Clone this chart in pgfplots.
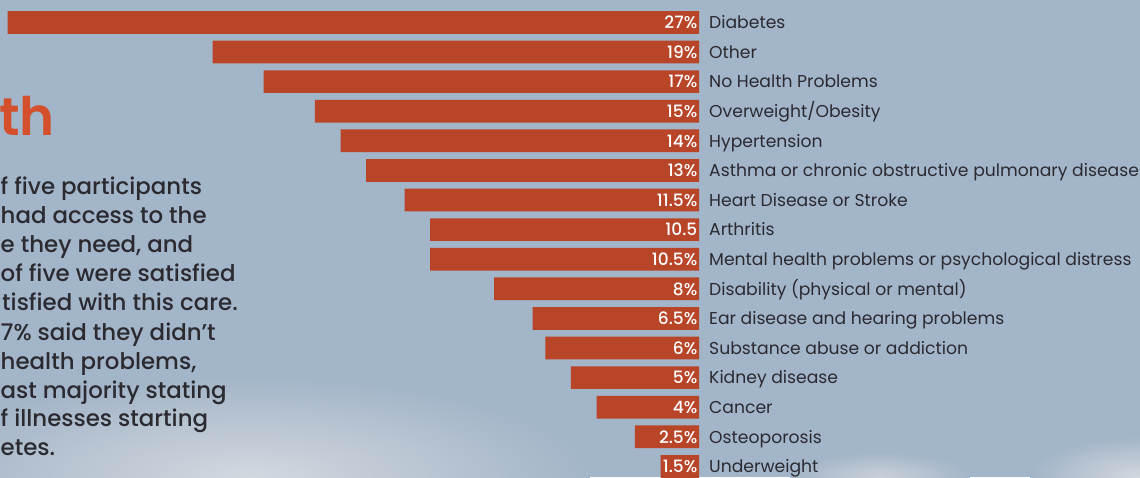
\documentclass[border=0pt]{standalone}
\usepackage{fontspec}
\setmainfont{Poppins}
\newfontfamily\pmed{Poppins Medium}
\newfontfamily\psemi{Poppins SemiBold}
\usepackage{pgfplots}
\pgfplotsset{compat=1.18}

\definecolor{sky}{HTML}{A3B5C8}
\definecolor{cloud}{HTML}{D2D8DE}
\definecolor{barred}{HTML}{B94528}
\definecolor{ink}{HTML}{2B2A31}
\definecolor{rust}{HTML}{D4502C}

\begin{document}
\begin{tikzpicture}
\useasboundingbox (0,0) rectangle (1140pt,477pt);
\clip (0,0) rectangle (1140pt,477pt);
% sky background with a few soft clouds at the bottom
\fill[sky] (0,0) rectangle (1140pt,477pt);
\shade[inner color=cloud, outer color=sky] (250pt,0pt) ellipse (340pt and 100pt);
\shade[inner color=cloud!80!sky, outer color=sky] (880pt,0pt) ellipse (90pt and 25pt);
\shade[inner color=cloud, outer color=sky] (1140pt,0pt) ellipse (110pt and 40pt);

% cropped intro text on the left
\node[anchor=base east, font=\psemi\fontsize{53}{53}\selectfont, text=rust, inner sep=0pt] at (55pt,341pt) {th};
\begin{scope}[every node/.style={anchor=base west, inner sep=0pt, text=ink, font=\pmed\fontsize{22.9}{22.9}\selectfont}]
\node at (0.5pt,282pt) {f five participants};
\node at (0.5pt,253pt) {had access to the};
\node at (0.5pt,224pt) {e they need, and};
\node at (0.5pt,195pt) {of five were satisfied};
\node at (2pt,167pt) {tisfied with this care.};
\node at (0.5pt,137pt) {7\% said they didn’t};
\node at (0.5pt,108pt) {health problems,};
\node at (0.5pt,79pt) {ast majority stating};
\node at (0.5pt,51pt) {f illnesses starting};
\node at (0.5pt,22pt) {etes.};
\end{scope}

\begin{axis}[
    at={(0pt,0pt)}, anchor=south west,
    scale only axis, width=699pt, height=477pt,
    xmin=0, xmax=27.3, x dir=reverse,
    ymin=-0.757, ymax=15.358, y dir=reverse,
    axis line style={draw=none},
    tick style={draw=none}, major tick length=0pt,
    xtick=\empty,
    ytick={0,1,...,15},
    yticklabel pos=right,
    yticklabels={Diabetes, Other, No Health Problems, Overweight/Obesity, Hypertension,
        Asthma or chronic obstructive pulmonary disease, Heart Disease or Stroke, Arthritis,
        Mental health problems or psychological distress, Disability (physical or mental),
        Ear disease and hearing problems, Substance abuse or addiction, Kidney disease,
        Cancer, Osteoporosis, Underweight},
    yticklabel style={font=\fontsize{17.2}{17.2}\selectfont, text=ink, anchor=west,
        inner sep=0pt, text height=12.5pt, text depth=0pt, xshift=10pt},
    clip=false,
]
\addplot[xbar, fill=barred, draw=none, bar width=22.7pt] coordinates {
    (27,0) (19,1) (17,2) (15,3) (14,4) (13,5) (11.5,6) (10.5,7)
    (10.5,8) (8,9) (6.5,10) (6,11) (5,12) (4,13) (2.5,14) (1.5,15)
};
\addplot[only marks, mark=none, point meta=explicit symbolic, nodes near coords,
    nodes near coords style={anchor=east, text=white, inner sep=1.5pt,
        font=\pmed\fontsize{17}{17}\selectfont, text height=12.5pt, text depth=0pt}]
    coordinates {
    (0,0) [27\%] (0,1) [19\%] (0,2) [17\%] (0,3) [15\%] (0,4) [14\%]
    (0,5) [13\%] (0,6) [11.5\%] (0,7) [10.5] (0,8) [10.5\%] (0,9) [8\%]
    (0,10) [6.5\%] (0,11) [6\%] (0,12) [5\%] (0,13) [4\%] (0,14) [2.5\%]
    (0,15) [1.5\%]
};
\end{axis}
\end{tikzpicture}
\end{document}
